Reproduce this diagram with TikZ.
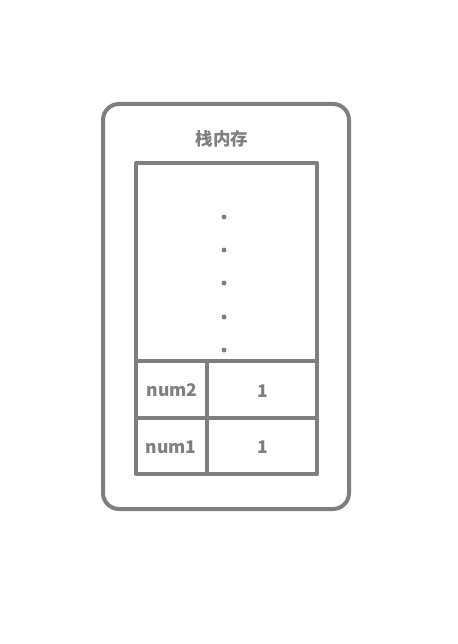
\documentclass[tikz,border=0pt]{standalone}
\usepackage{fontspec}
\setmainfont{Noto Sans CJK SC}
\definecolor{boxgray}{HTML}{7F7F7F}
\begin{document}
\begin{tikzpicture}[x=1pt,y=-1pt,line join=round,line width=4pt,draw=boxgray,font=\fontsize{17.5}{20}\selectfont\bfseries]
		\useasboundingbox (0,0) rectangle (457,644);
		\draw[rounded corners=16pt] (103,104) rectangle (349,509);
		\node[text=boxgray] (title) at (222,139) {栈内存};
		\draw (136,163) rectangle (317,474);
		\draw (136,361)--(317,361) (136,418)--(317,418) (207,361)--(207,474);
		\foreach \y in {217,250,283,317,350} \fill[boxgray] (224,\y) circle (2.5pt);
		\node[text=boxgray] (n2) at (172,390) {num2};
		\node[text=boxgray] (v2) at (263,391) {1};
		\node[text=boxgray] (n1) at (171,447) {num1};
		\node[text=boxgray] (v1) at (263,447) {1};
	\end{tikzpicture}
\end{document}
